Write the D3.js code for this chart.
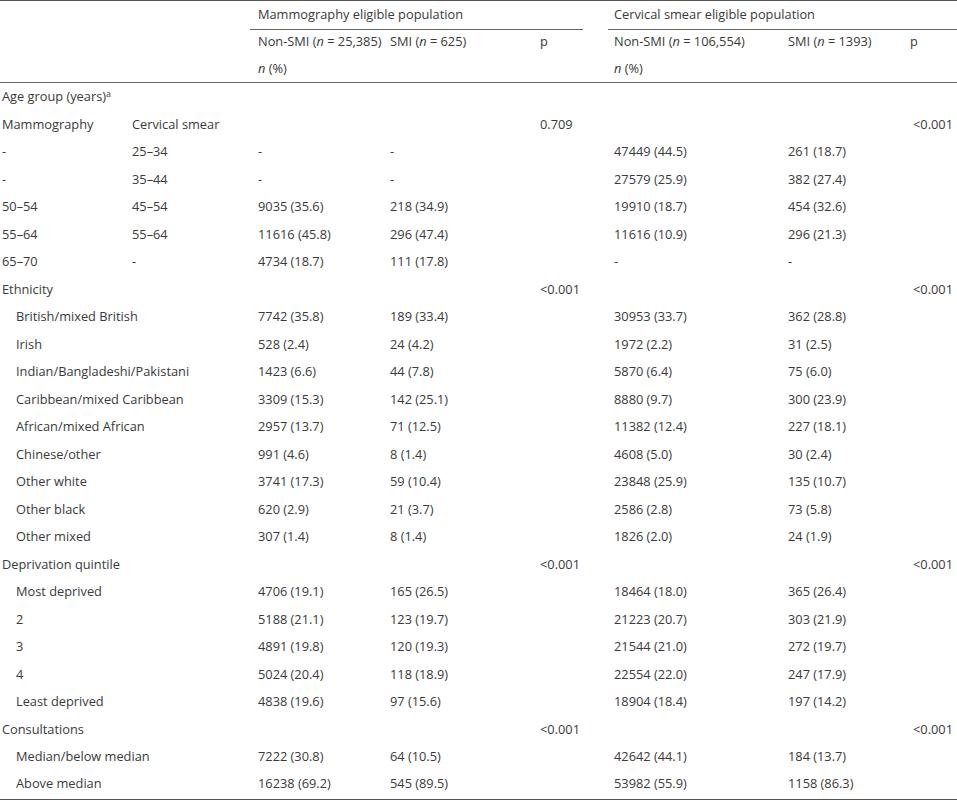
<!DOCTYPE html>
<html>
<head>
<meta charset="utf-8">
<script src="https://cdn.jsdelivr.net/npm/d3@7"></script>
<style>
  body { margin: 0; background: #fff; }
  text { font-family: "Open Sans", "Noto Sans", sans-serif; font-size: 12.8px; fill: #3a3a3a; }
</style>
</head>
<body>
<div id="chart"></div>
<script>
// Table data
const groupHeaders = ['Mammography eligible population', 'Cervical smear eligible population'];
const colHeaders = [
  [{t: 'Non-SMI ('}, {t: 'n', i: true}, {t: ' = 25,385)'}],
  [{t: 'SMI ('}, {t: 'n', i: true}, {t: ' = 625)'}],
  [{t: 'p'}],
  [{t: 'Non-SMI ('}, {t: 'n', i: true}, {t: ' = 106,554)'}],
  [{t: 'SMI ('}, {t: 'n', i: true}, {t: ' = 1393)'}],
  [{t: 'p'}]
];
// [label, indent, secondLabel, mamNon, mamSmi, mamP, cerNon, cerSmi, cerP]
const rows = [
  ['Age group (years)', 0, '', '', '', '', '', '', '', 'a'],
  ['Mammography', 0, 'Cervical smear', '', '', '0.709', '', '', '<0.001'],
  ['-', 0, '25–34', '-', '-', '', '47449 (44.5)', '261 (18.7)', ''],
  ['-', 0, '35–44', '-', '-', '', '27579 (25.9)', '382 (27.4)', ''],
  ['50–54', 0, '45–54', '9035 (35.6)', '218 (34.9)', '', '19910 (18.7)', '454 (32.6)', ''],
  ['55–64', 0, '55–64', '11616 (45.8)', '296 (47.4)', '', '11616 (10.9)', '296 (21.3)', ''],
  ['65–70', 0, '-', '4734 (18.7)', '111 (17.8)', '', '-', '-', ''],
  ['Ethnicity', 0, '', '', '', '<0.001', '', '', '<0.001'],
  ['British/mixed British', 1, '', '7742 (35.8)', '189 (33.4)', '', '30953 (33.7)', '362 (28.8)', ''],
  ['Irish', 1, '', '528 (2.4)', '24 (4.2)', '', '1972 (2.2)', '31 (2.5)', ''],
  ['Indian/Bangladeshi/Pakistani', 1, '', '1423 (6.6)', '44 (7.8)', '', '5870 (6.4)', '75 (6.0)', ''],
  ['Caribbean/mixed Caribbean', 1, '', '3309 (15.3)', '142 (25.1)', '', '8880 (9.7)', '300 (23.9)', ''],
  ['African/mixed African', 1, '', '2957 (13.7)', '71 (12.5)', '', '11382 (12.4)', '227 (18.1)', ''],
  ['Chinese/other', 1, '', '991 (4.6)', '8 (1.4)', '', '4608 (5.0)', '30 (2.4)', ''],
  ['Other white', 1, '', '3741 (17.3)', '59 (10.4)', '', '23848 (25.9)', '135 (10.7)', ''],
  ['Other black', 1, '', '620 (2.9)', '21 (3.7)', '', '2586 (2.8)', '73 (5.8)', ''],
  ['Other mixed', 1, '', '307 (1.4)', '8 (1.4)', '', '1826 (2.0)', '24 (1.9)', ''],
  ['Deprivation quintile', 0, '', '', '', '<0.001', '', '', '<0.001'],
  ['Most deprived', 1, '', '4706 (19.1)', '165 (26.5)', '', '18464 (18.0)', '365 (26.4)', ''],
  ['2', 1, '', '5188 (21.1)', '123 (19.7)', '', '21223 (20.7)', '303 (21.9)', ''],
  ['3', 1, '', '4891 (19.8)', '120 (19.3)', '', '21544 (21.0)', '272 (19.7)', ''],
  ['4', 1, '', '5024 (20.4)', '118 (18.9)', '', '22554 (22.0)', '247 (17.9)', ''],
  ['Least deprived', 1, '', '4838 (19.6)', '97 (15.6)', '', '18904 (18.4)', '197 (14.2)', ''],
  ['Consultations', 0, '', '', '', '<0.001', '', '', '<0.001'],
  ['Median/below median', 1, '', '7222 (30.8)', '64 (10.5)', '', '42642 (44.1)', '184 (13.7)', ''],
  ['Above median', 1, '', '16238 (69.2)', '545 (89.5)', '', '53982 (55.9)', '1158 (86.3)', '']
];

const width = 957, height = 800;
const colX = [258, 390, 540, 614, 788, 910];
const svg = d3.select('#chart').append('svg').attr('width', width).attr('height', height);

const y = d3.scalePoint().domain(d3.range(rows.length)).range([97, 784]);
const line = (x1, x2, yy, c) => svg.append('line').attr('x1', x1).attr('x2', x2)
  .attr('y1', yy).attr('y2', yy).attr('stroke', c || '#555').attr('stroke-width', 1);

line(0, width, 0.5);
line(250, 583, 29.5, '#666');
line(608, width, 29.5, '#666');
line(0, width, 82.5, '#666');
line(0, width, 799.5);

// Header
svg.selectAll('.gh').data(groupHeaders).enter().append('text')
  .attr('x', (d, i) => i ? 614 : 258).attr('y', 15).attr('dy', '0.35em').text(d => d);

colHeaders.forEach((parts, i) => {
  const t = svg.append('text').attr('x', colX[i]).attr('y', 42).attr('dy', '0.35em');
  parts.forEach(p => t.append('tspan').style('font-style', p.i ? 'italic' : null).text(p.t));
});
[258, 614].forEach(x => {
  const t = svg.append('text').attr('x', x).attr('y', 69).attr('dy', '0.35em');
  t.append('tspan').style('font-style', 'italic').text('n');
  t.append('tspan').text(' (%)');
});

// Body
const g = svg.selectAll('.row').data(rows).enter().append('g')
  .attr('transform', (d, i) => `translate(0,${y(i)})`);

const lab = g.append('text').attr('x', d => d[1] ? 16 : 2).attr('dy', '0.35em').text(d => d[0]);
lab.filter(d => d[9]).append('tspan').attr('dy', '-0.5em').style('font-size', '9px').text(d => d[9]);
g.append('text').attr('x', 132).attr('dy', '0.35em').text(d => d[2]);
g.append('text').attr('x', colX[0]).attr('dy', '0.35em').text(d => d[3]);
g.append('text').attr('x', colX[1]).attr('dy', '0.35em').text(d => d[4]);
g.append('text').attr('x', colX[2]).attr('dy', '0.35em').text(d => d[5]);
g.append('text').attr('x', colX[3]).attr('dy', '0.35em').text(d => d[6]);
g.append('text').attr('x', colX[4]).attr('dy', '0.35em').text(d => d[7]);
g.append('text').attr('x', 953).attr('dy', '0.35em').attr('text-anchor', 'end').text(d => d[8]);
</script>
</body>
</html>
